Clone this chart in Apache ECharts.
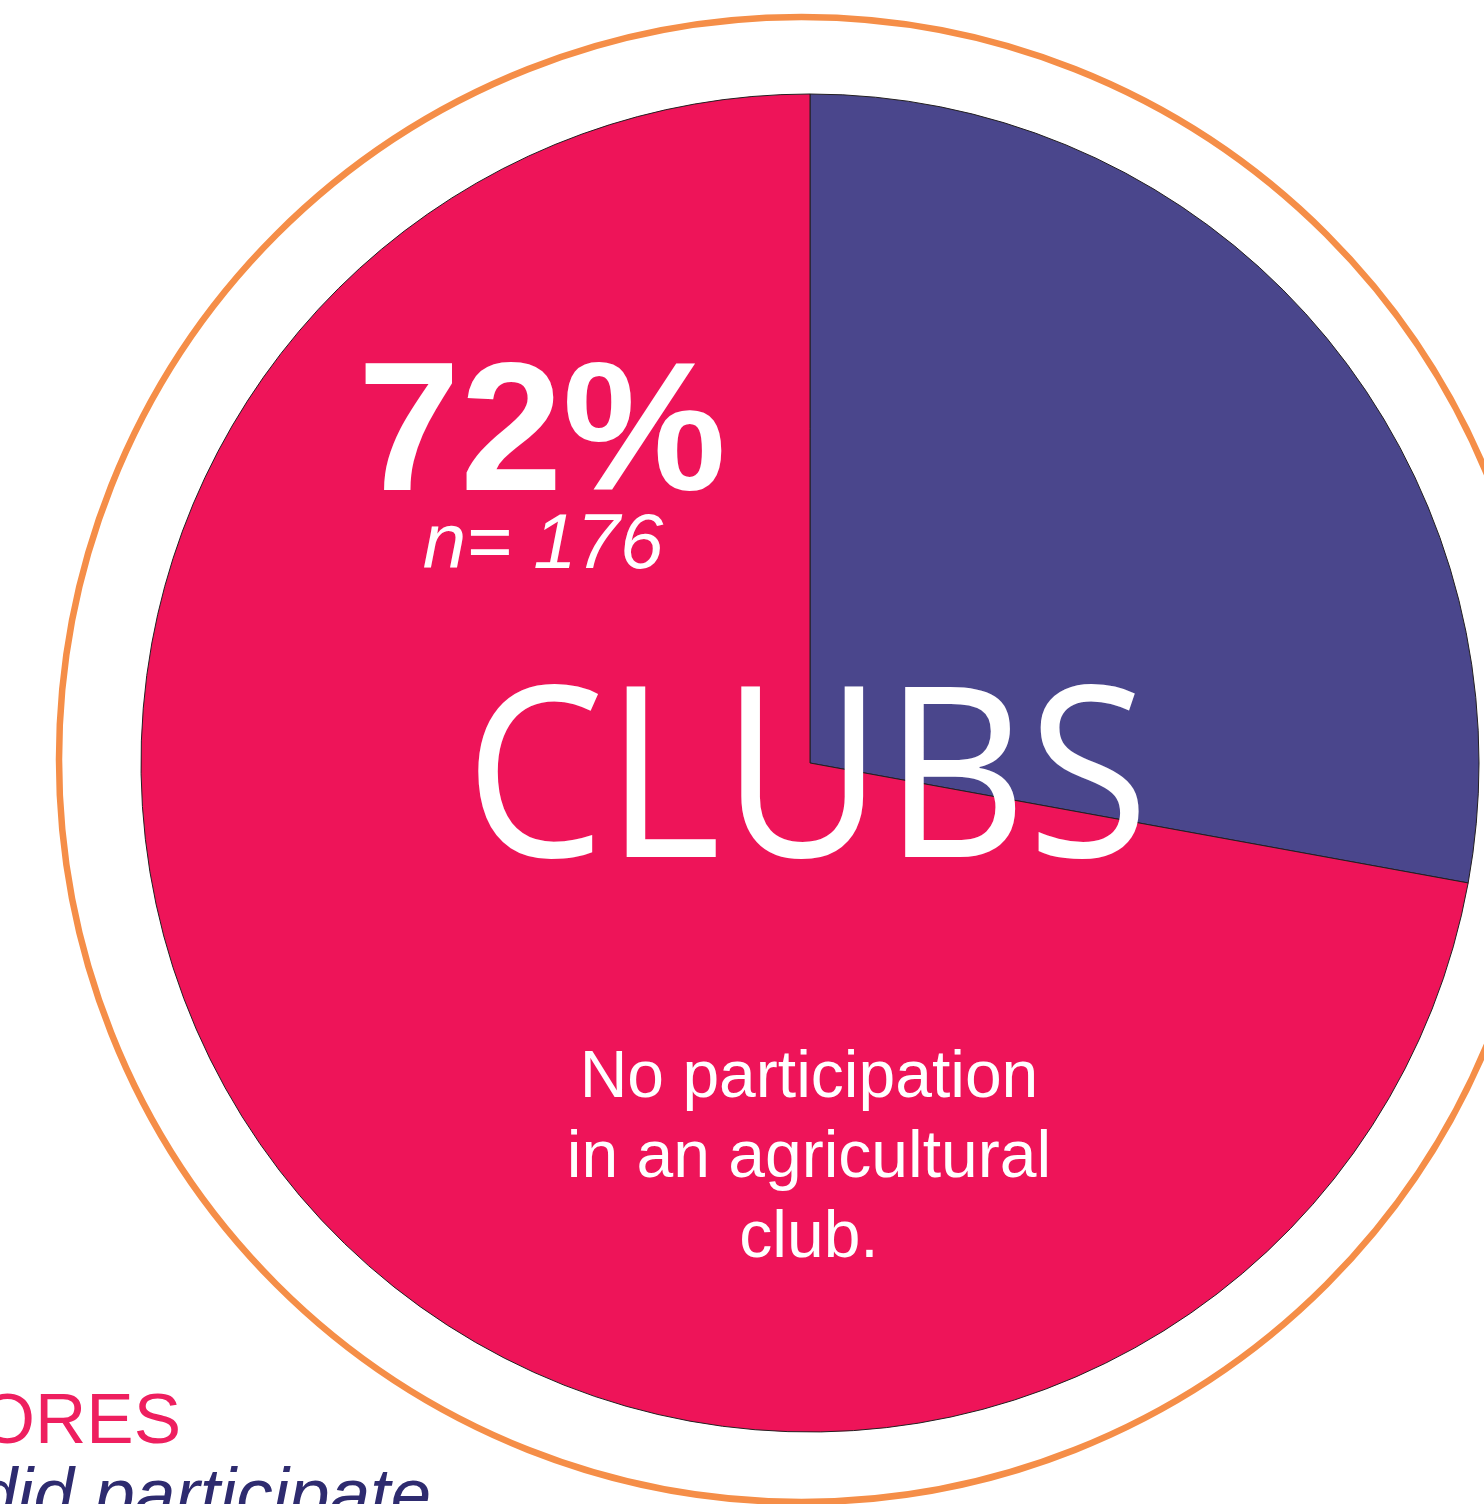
<!DOCTYPE html>
<html>
<head>
<meta charset="utf-8">
<script src="https://cdn.jsdelivr.net/npm/echarts@6/dist/echarts.min.js"></script>
<style>
html,body{margin:0;padding:0;background:#fff;}
#main{width:1484px;height:1504px;}
</style>
</head>
<body>
<div id="main"></div>
<script>
// Data (respondent counts, n = 176 for "no participation")
var categories = ['Participated in an agricultural club', 'No participation in an agricultural club.'];
var values = [68, 176];
var sliceColors = ['#4A468C', '#EE1459'];
var headlinePercent = '72%';
var headlineN = 'n= 176';
var title = 'CLUBS';
var sliceLabelLines = ['No participation', 'in an agricultural', 'club.'];

var chart = echarts.init(document.getElementById('main'), null, {renderer: 'canvas'});

var pieData = categories.map(function (c, i) {
  return {name: c, value: values[i], itemStyle: {color: sliceColors[i]}};
});

var sans = "'Liberation Sans', Arial, Helvetica, sans-serif";

var graphics = [
  {
    type: 'circle', z: 0,
    shape: {cx: 801.5, cy: 759.5, r: 742.5},
    style: {fill: 'none', stroke: '#F58E48', lineWidth: 6.5}
  },
  {
    type: 'text', z: 10, x: 542, y: 439,
    style: {text: headlinePercent, fill: '#fff', font: 'bold 184px ' + sans, align: 'center', verticalAlign: 'middle'}
  },
  {
    type: 'text', z: 10, x: 543, y: 546,
    style: {text: headlineN, fill: '#fff', font: 'italic 78px ' + sans, align: 'center', verticalAlign: 'middle'}
  },
  {
    type: 'text', z: 10, x: 807, y: 789, scaleX: 0.935,
    style: {text: title, fill: '#fff', font: "238px 'Open Sans', sans-serif", align: 'center', verticalAlign: 'middle'}
  },
  {
    type: 'text', z: 10, x: 181, y: 1423.5,
    style: {text: 'ORES', fill: '#EE1F5F', font: '71px ' + sans, align: 'right', verticalAlign: 'middle'}
  },
  {
    type: 'text', z: 10, x: 431, y: 1499,
    style: {text: 'did participate', fill: '#2E2B6F', font: 'italic 73px ' + sans, align: 'right', verticalAlign: 'middle'}
  }
];
var lineYs = [1079, 1158.5, 1239];
sliceLabelLines.forEach(function (t, i) {
  graphics.push({
    type: 'text', z: 10, x: 809, y: lineYs[i],
    style: {text: t, fill: '#fff', font: '66px ' + sans, align: 'center', verticalAlign: 'middle'}
  });
});

chart.setOption({
  backgroundColor: '#fff',
  animation: false,
  series: [{
    type: 'pie',
    center: [810, 763],
    radius: 669,
    startAngle: 90,
    clockwise: true,
    label: {show: false},
    labelLine: {show: false},
    itemStyle: {borderColor: '#231F20', borderWidth: 1},
    emphasis: {disabled: true},
    data: pieData
  }],
  graphic: graphics
});
</script>
</body>
</html>
